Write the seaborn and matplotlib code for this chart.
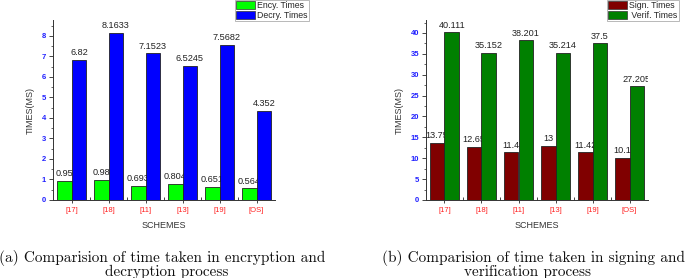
import numpy as np
import pandas as pd
import matplotlib
matplotlib.use("Agg")
import matplotlib.pyplot as plt
import seaborn as sns
from matplotlib.ticker import MultipleLocator, FixedLocator
from matplotlib.patches import Patch

# ---- data ----
schemes = ["[17]", "[18]", "[11]", "[13]", "[19]", "[OS]"]
ency_times = [0.95, 0.98, 0.693, 0.804, 0.651, 0.564]
decry_times = [6.82, 8.1633, 7.1523, 6.5245, 7.5682, 4.352]
sign_times = [13.75, 12.65, 11.4, 13, 11.42, 10.1]
verif_times = [40.111, 35.152, 38.201, 35.214, 37.5, 27.205]

left_series = ["Ency. Times", "Decry. Times"]
right_series = ["Sign. Times", " Verif. Times"]
caption_a = ["(a) Comparision of time taken in encryption and", "decryption process"]
caption_b = ["(b) Comparision of time taken in signing and", "verification process"]

sns.set_style("ticks")
plt.rcParams["font.family"] = ["Liberation Sans", "DejaVu Sans"]

W, H = 685, 278
fig = plt.figure(figsize=(W / 100, H / 100), dpi=100)


def px_axes(x0, x1, ytop, ybot):
    return fig.add_axes([x0 / W, 1 - ybot / H, (x1 - x0) / W, (ybot - ytop) / H])


def draw(ax, s1, s2, names, colors, ylim, major, minor):
    df = pd.DataFrame({
        "scheme": schemes * 2,
        "value": list(s1) + list(s2),
        "series": [names[0]] * len(schemes) + [names[1]] * len(schemes),
    })
    sns.barplot(data=df, x="scheme", y="value", hue="series", palette=colors,
                ax=ax, width=0.8, edgecolor="#222222", linewidth=0.6,
                legend=False, errorbar=None, saturation=1)
    for p in ax.patches:
        p.set_zorder(2)
    for cont in ax.containers:
        ax.bar_label(cont, fmt="{:g}", padding=2.0, fontsize=6.6,
                     color="#222222", zorder=1.5, clip_on=True)
    ax.set_xlim(-0.5, len(schemes) - 0.5)
    ax.set_ylim(*ylim)
    ax.yaxis.set_major_locator(MultipleLocator(major))
    ax.yaxis.set_minor_locator(MultipleLocator(minor))
    ax.xaxis.set_minor_locator(FixedLocator(np.arange(0.5, len(schemes) - 0.5, 1)))
    ax.tick_params(axis="y", which="major", length=3, width=0.6, labelsize=5.5,
                   labelcolor="#2020ff", pad=2)
    ax.tick_params(axis="y", which="minor", length=1.8, width=0.5)
    ax.tick_params(axis="x", which="major", length=2, width=0.6, labelsize=5.5,
                   labelcolor="#ff2020", pad=3)
    ax.tick_params(axis="x", which="minor", length=2.5, width=0.6, direction="in")
    for lab in ax.get_yticklabels():
        lab.set_fontweight("bold")
    sns.despine(ax=ax)
    for sp in ("left", "bottom"):
        ax.spines[sp].set_linewidth(0.7)
        ax.spines[sp].set_color("#333333")
    ax.set_xlabel("SCHEMES", fontsize=6.5, color="#333333", labelpad=5)
    ax.set_ylabel("TIMES(MS)", fontsize=6.5, color="#333333", labelpad=5)
    ax.set_facecolor("white")


ax1 = px_axes(53, 275, 20, 200)
draw(ax1, ency_times, decry_times, left_series, ["#00ff00", "#0000ff"], (0, 8.78), 1, 0.5)
ax2 = px_axes(426, 648, 20, 200)
draw(ax2, sign_times, verif_times, right_series, ["#800000", "#008000"], (0, 43.1), 5, 2.5)


def legend(names, colors, x0):
    handles = [Patch(facecolor=c, edgecolor="#333333", linewidth=0.5) for c in colors]
    leg = fig.legend(handles, names, loc="upper left",
                     bbox_to_anchor=(x0 / W, 1.0), borderaxespad=0,
                     fontsize=6.3, frameon=True, fancybox=False,
                     handlelength=2.1, handleheight=1.0, handletextpad=0.3,
                     labelspacing=0.05, borderpad=0.15, edgecolor="#999999")
    leg.get_frame().set_linewidth(0.6)


legend(left_series, ["#00ff00", "#0000ff"], 235)
legend(right_series, ["#800000", "#008000"], 607)

cap_kw = dict(fontsize=11, family="cmr10", ha="center", va="center", color="#111111")
fig.text(162 / W, 1 - 258 / H, caption_a[0], **cap_kw)
fig.text(167 / W, 1 - 272 / H, caption_a[1], **cap_kw)
fig.text(534 / W, 1 - 258 / H, caption_b[0], **cap_kw)
fig.text(527 / W, 1 - 272 / H, caption_b[1], **cap_kw)

fig.savefig("out.png", dpi=100)
